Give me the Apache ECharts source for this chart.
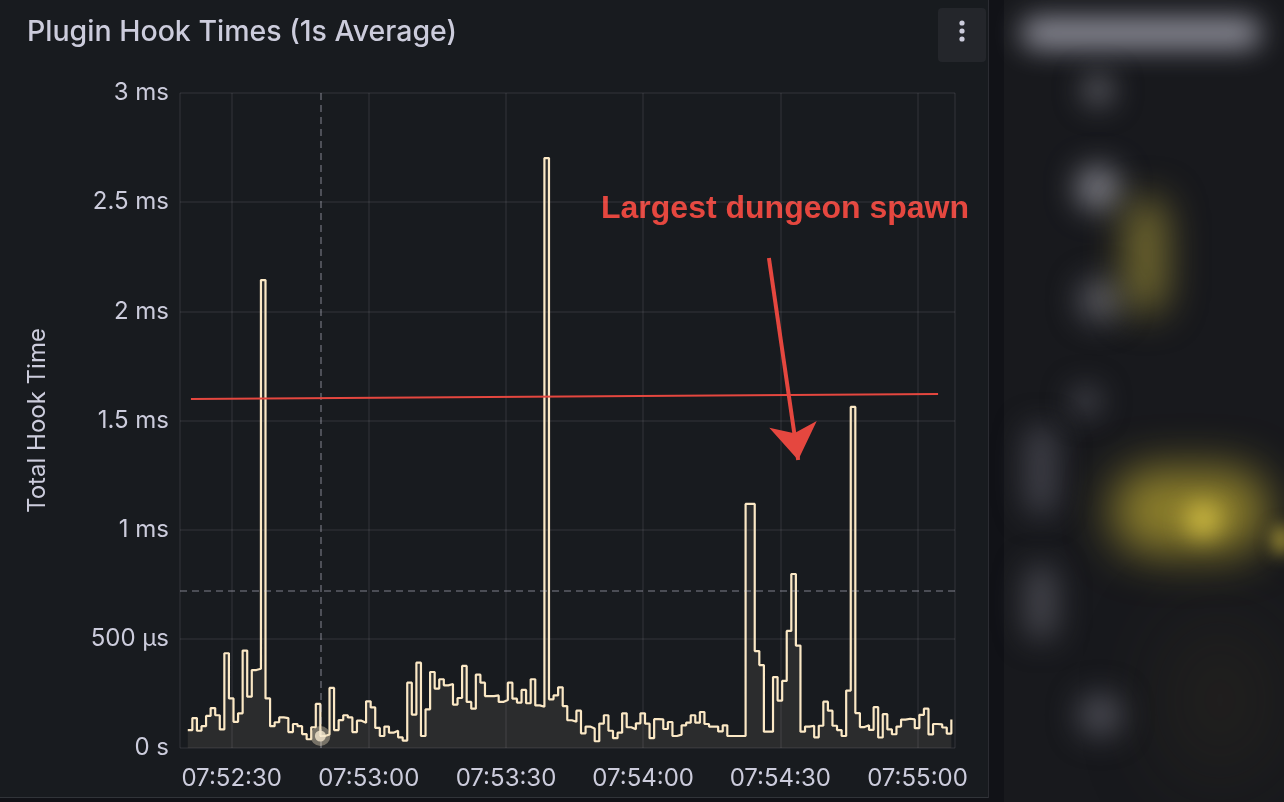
<!DOCTYPE html>
<html>
<head>
<meta charset="utf-8">
<script src="https://cdn.jsdelivr.net/npm/echarts@6/dist/echarts.min.js"></script>
<style>
html,body{margin:0;padding:0;background:#111217;}
#chart{width:1284px;height:802px;}
</style>
</head>
<body>
<div id="chart"></div>
<script>
// ---------- data ----------
const panelTitle = 'Plugin Hook Times (1s Average)';
const yAxisTitle = 'Total Hook Time';
const annotationText = 'Largest dungeon spawn';

const firstSampleTime = '2024-01-01T07:52:20.400Z';
const sampleIntervalMs = 1000;
const axisStartTime = '2024-01-01T07:52:18.700Z';
const axisEndTime = '2024-01-01T07:55:08.200Z';

// 1s average hook time, microseconds
const hookTimesUs = [
  82, 137, 79, 100, 147, 183, 150, 85, 434, 227,
  120, 159, 446, 235, 357, 363, 2143, 227, 100, 118,
  140, 137, 73, 110, 100, 64, 40, 95, 202, 55,
  62, 275, 82, 128, 150, 140, 73, 125, 116, 214,
  186, 92, 55, 98, 70, 79, 49, 34, 299, 153,
  391, 55, 177, 348, 272, 315, 287, 293, 199, 229,
  376, 211, 180, 336, 299, 238, 238, 241, 211, 220,
  299, 226, 208, 266, 205, 315, 195, 189, 2702, 223,
  241, 278, 192, 127, 120, 171, 67, 98, 89, 31,
  112, 150, 79, 45, 70, 159, 95, 86, 113, 159,
  112, 45, 132, 131, 87, 119, 55, 61, 104, 116,
  150, 116, 165, 110, 98, 98, 76, 104, 55, 55,
  55, 55, 1118, 1118, 444, 380, 75, 75, 325, 217,
  307, 536, 797, 469, 75, 98, 102, 49, 102, 212,
  171, 102, 82, 55, 263, 1562, 160, 96, 104, 83,
  187, 48, 155, 85, 63, 98, 130, 134, 131, 91,
  152, 180, 62, 110, 108, 94, 66, 131
];

const yTickValuesUs = [0, 500, 1000, 1500, 2000, 2500, 3000];
const yTickLabels = ['0 s', '500 µs', '1 ms', '1.5 ms', '2 ms', '2.5 ms', '3 ms'];

// hover crosshair state
const hoverIndex = 29;
const cursorValueUs = 720;

// hand-drawn annotations (data coordinates)
const redLineTimes = ['2024-01-01T07:52:21.100Z', '2024-01-01T07:55:04.500Z'];
const redLineValuesUs = [1598, 1621];
const arrowTimes = ['2024-01-01T07:54:27.500Z', '2024-01-01T07:54:33.900Z'];
const arrowValuesUs = [2244, 1319];

// ---------- build ----------
const t0 = Date.parse(firstSampleTime);
const sampleTimes = hookTimesUs.map((_, i) => t0 + i * sampleIntervalMs);
const seriesData = hookTimesUs.map((v, i) => [sampleTimes[i], v]);
const hoverPoint = [sampleTimes[hoverIndex], hookTimesUs[hoverIndex]];
const redLineData = redLineTimes.map((t, i) => [Date.parse(t), redLineValuesUs[i]]);
const arrowCoords = arrowTimes.map((t, i) => [Date.parse(t), arrowValuesUs[i]]);

const pad = n => String(n).padStart(2, '0');
const fmtTime = v => { const d = new Date(v); return pad(d.getUTCHours()) + ':' + pad(d.getUTCMinutes()) + ':' + pad(d.getUTCSeconds()); };

const TEXT = '#ccccdc';
const LINE = '#fbe8c5';
const RED = '#e5473f';
const FONT = 'Inter, "Noto Sans", sans-serif';

// soft blurred shape (only its shadow is visible) for the blurred neighbour panel
const OFF = 3000;
const blur = (x, y, w, h, r, color, b) => ({
  type: 'rect', silent: true,
  shape: { x: x + OFF, y: y, width: w, height: h, r: r },
  style: { fill: color, shadowColor: color, shadowBlur: b, shadowOffsetX: -OFF, shadowOffsetY: 0 }
});

const chart = echarts.init(document.getElementById('chart'));
chart.setOption({
  useUTC: true,
  animation: false,
  backgroundColor: '#181b1f',
  grid: { left: 180, right: 329, top: 93, bottom: 54, containLabel: false },
  xAxis: {
    type: 'time',
    min: Date.parse(axisStartTime),
    max: Date.parse(axisEndTime),
    minInterval: 31000,
    maxInterval: 31000,
    axisLine: { show: false },
    axisTick: { show: false },
    splitLine: { show: true, lineStyle: { color: 'rgba(204,204,220,0.10)', width: 1.5 } },
    axisLabel: { color: TEXT, fontFamily: FONT, fontSize: 24, margin: 19, formatter: v => fmtTime(v) }
  },
  yAxis: {
    type: 'value',
    min: yTickValuesUs[0],
    max: yTickValuesUs[yTickValuesUs.length - 1],
    interval: yTickValuesUs[1] - yTickValuesUs[0],
    name: yAxisTitle,
    nameLocation: 'middle',
    nameGap: 130,
    nameTextStyle: { color: TEXT, fontFamily: FONT, fontSize: 24 },
    axisLine: { show: false },
    axisTick: { show: false },
    splitLine: { show: true, lineStyle: { color: 'rgba(204,204,220,0.10)', width: 1.5 } },
    axisLabel: { color: TEXT, fontFamily: FONT, fontSize: 24, margin: 11,
      formatter: v => { const k = yTickValuesUs.indexOf(v); return k >= 0 ? yTickLabels[k] : ''; } }
  },
  series: [
    {
      type: 'line',
      step: 'end',
      data: seriesData,
      showSymbol: false,
      symbol: 'none',
      lineStyle: { color: LINE, width: 2.2 },
      areaStyle: { color: 'rgba(251,232,197,0.12)' },
      z: 3,
      markLine: {
        silent: true,
        symbol: 'none',
        label: { show: false },
        lineStyle: { color: 'rgba(204,204,220,0.38)', width: 1.6, type: [7, 5] },
        data: [{ xAxis: hoverPoint[0] }, { yAxis: cursorValueUs }]
      }
    },
    {
      type: 'scatter',
      data: [hoverPoint],
      symbolSize: 11,
      itemStyle: { color: '#fdf1da', borderColor: 'rgba(235,220,190,0.5)', borderWidth: 9 },
      z: 6
    },
    {
      type: 'line',
      data: redLineData,
      symbol: 'none',
      lineStyle: { color: RED, width: 2 },
      z: 7
    },
    {
      type: 'lines',
      coordinateSystem: 'cartesian2d',
      symbol: ['none', 'arrow'],
      symbolSize: [24, 36],
      lineStyle: { color: RED, width: 4, opacity: 1, curveness: 0 },
      itemStyle: { color: RED },
      data: [{ coords: arrowCoords }],
      z: 7
    }
  ],
  graphic: [
    { type: 'text', silent: true, style: { x: 27, y: 32, text: panelTitle, font: '500 28.5px ' + FONT, fill: TEXT, verticalAlign: 'middle' } },
    { type: 'rect', silent: true, shape: { x: 938, y: 8, width: 48, height: 54, r: 4 }, style: { fill: '#24262b' } },
    { type: 'circle', silent: true, shape: { cx: 962, cy: 23, r: 2.6 }, style: { fill: TEXT } },
    { type: 'circle', silent: true, shape: { cx: 962, cy: 31, r: 2.6 }, style: { fill: TEXT } },
    { type: 'circle', silent: true, shape: { cx: 962, cy: 39, r: 2.6 }, style: { fill: TEXT } },
    { type: 'text', silent: true, style: { x: 601, y: 209, text: annotationText, font: 'bold 32px "Liberation Sans", Arial, sans-serif', fill: RED, verticalAlign: 'middle' } },
    // panel borders / gap
    { type: 'rect', silent: true, shape: { x: 0, y: 798, width: 990, height: 4 }, style: { fill: '#111217' } },
    { type: 'line', silent: true, shape: { x1: 0, y1: 797.5, x2: 988, y2: 797.5 }, style: { stroke: 'rgba(204,204,220,0.14)', lineWidth: 1 } },
    { type: 'rect', silent: true, shape: { x: 988, y: 0, width: 296, height: 802 }, style: { fill: '#111217' } },
    { type: 'line', silent: true, shape: { x1: 988.5, y1: 0, x2: 988.5, y2: 798 }, style: { stroke: 'rgba(204,204,220,0.14)', lineWidth: 1 } },
    // blurred neighbouring panel
    { type: 'rect', silent: true, shape: { x: 1004, y: 0, width: 280, height: 802 }, style: { fill: '#18191d' } },
    blur(1170, 620, 100, 160, 50, 'rgba(66,58,36,0.5)', 90),
    blur(1022, 18, 238, 30, 12, 'rgba(190,190,204,0.85)', 28),
    blur(1082, 74, 32, 32, 16, 'rgba(125,125,135,0.8)', 28),
    blur(1076, 166, 44, 44, 22, 'rgba(150,150,160,0.9)', 30),
    blur(1078, 278, 44, 44, 22, 'rgba(120,120,130,0.8)', 30),
    blur(1070, 385, 32, 32, 16, 'rgba(95,95,105,0.75)', 28),
    blur(1078, 693, 44, 44, 22, 'rgba(105,105,115,0.8)', 30),
    blur(1025, 425, 32, 90, 16, 'rgba(88,88,98,0.8)', 30),
    blur(1025, 565, 32, 75, 16, 'rgba(95,95,105,0.8)', 30),
    blur(1126, 198, 40, 115, 20, 'rgba(175,160,60,0.8)', 38),
    blur(1112, 468, 156, 86, 40, 'rgba(185,165,50,0.85)', 46),
    blur(1185, 502, 36, 36, 18, 'rgba(220,200,70,0.9)', 24),
    blur(1272, 525, 20, 30, 10, 'rgba(200,180,60,0.8)', 16)
  ]
});
</script>
</body>
</html>
